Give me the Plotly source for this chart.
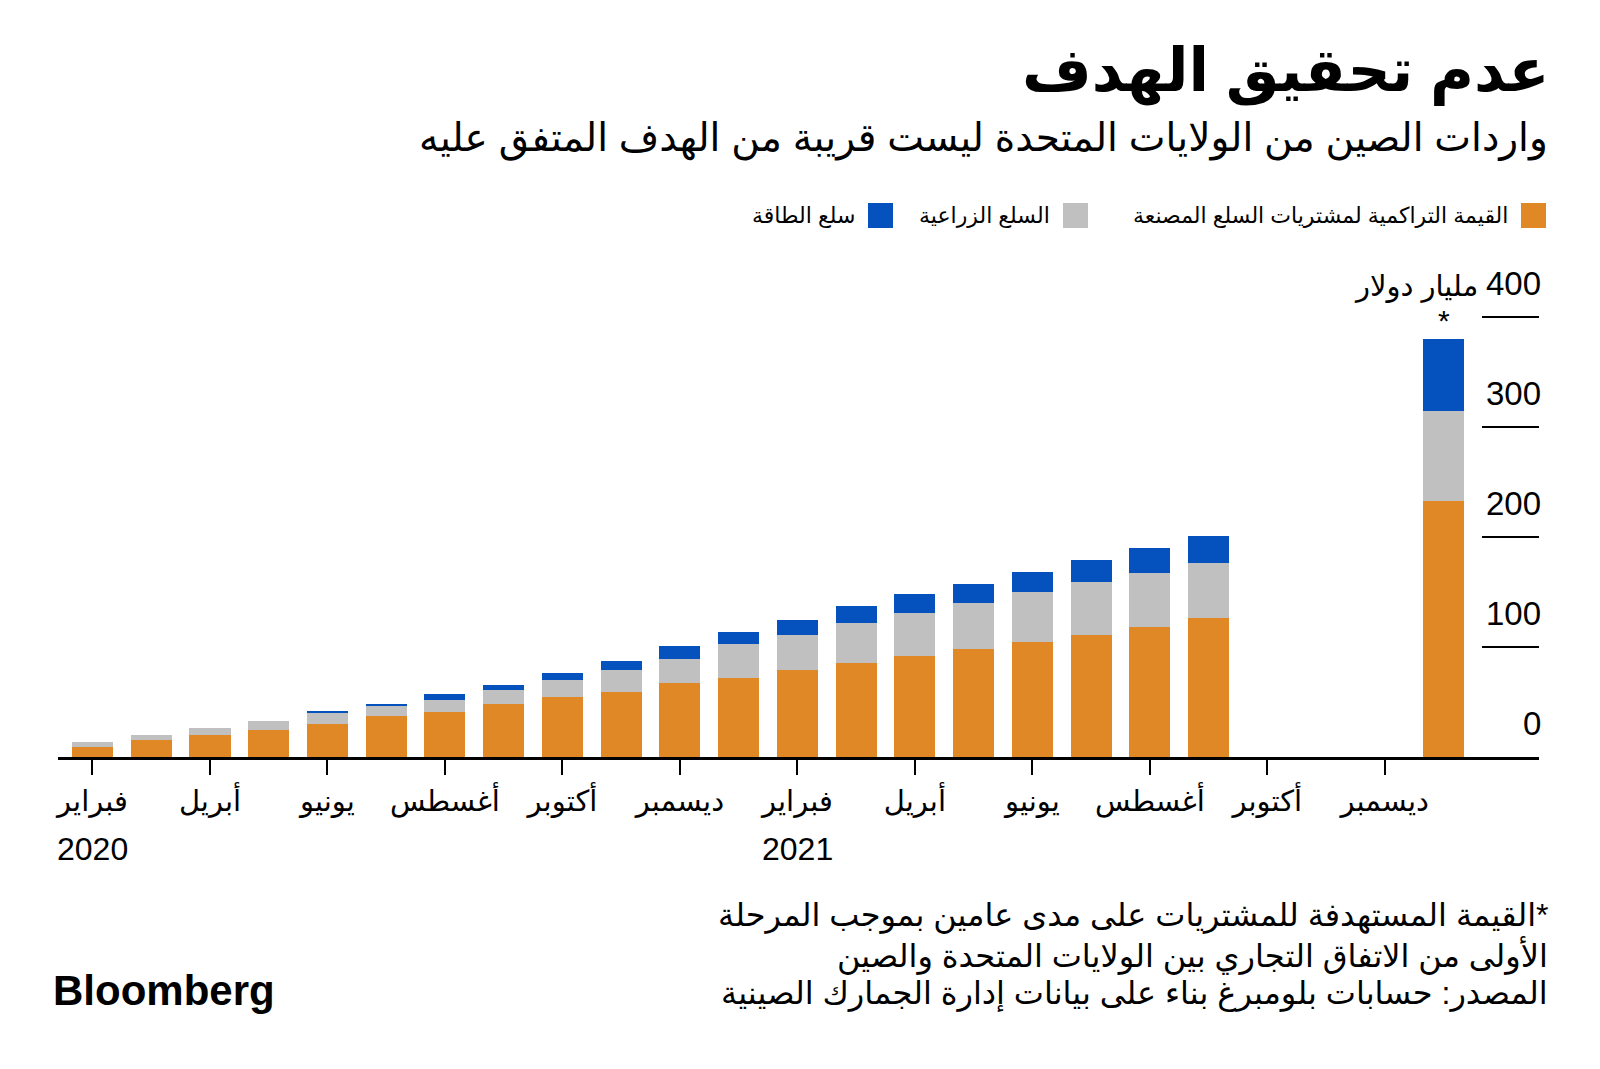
import plotly.graph_objects as go

# ---------------- data ----------------
months = ["2020-02", "2020-03", "2020-04", "2020-05", "2020-06", "2020-07", "2020-08",
          "2020-09", "2020-10", "2020-11", "2020-12", "2021-01", "2021-02", "2021-03",
          "2021-04", "2021-05", "2021-06", "2021-07", "2021-08", "2021-09", "2021-10",
          "2021-11", "2021-12"]
target_label = "الهدف"
categories = months + [target_label]

manufactured = [8.9, 15.6, 19.8, 24.3, 30.4, 37.0, 41.3, 48.5, 54.6, 59.2, 67.6, 71.9,
                78.8, 85.1, 91.8, 98.2, 104.2, 111.2, 118.1, 126.6, None, None, None, 233.0]
agricultural = [4.6, 4.2, 6.7, 8.8, 9.3, 9.1, 10.9, 12.5, 15.1, 19.6, 21.8, 30.8,
                32.4, 37.0, 39.0, 41.4, 46.0, 48.1, 49.6, 50.2, None, None, None, 81.2]
energy = [0, 0, 0, 0, 1.9, 2.2, 4.8, 4.8, 6.7, 8.8, 11.5, 10.9,
          13.3, 15.4, 17.6, 17.6, 18.1, 19.9, 22.4, 24.2, None, None, None, 66.2]

series_names = ["القيمة التراكمية لمشتريات السلع المصنعة", "السلع الزراعية", "سلع الطاقة"]
series_colors = ["#E08826", "#C0C0C0", "#0552BE"]

tick_months = ["2020-02", "2020-04", "2020-06", "2020-08", "2020-10", "2020-12",
               "2021-02", "2021-04", "2021-06", "2021-08", "2021-10", "2021-12"]
tick_labels = ["فبراير", "أبريل", "يونيو", "أغسطس", "أكتوبر", "ديسمبر",
               "فبراير", "أبريل", "يونيو", "أغسطس", "أكتوبر", "ديسمبر"]
year_months = ["2020-02", "2021-02"]
year_labels = ["2020", "2021"]
y_ticks = [0, 100, 200, 300, 400]
unit_label = "مليار دولار"

title = "عدم تحقيق الهدف"
subtitle = "واردات الصين من الولايات المتحدة ليست قريبة من الهدف المتفق عليه"
notes = ["\u200F*القيمة المستهدفة للمشتريات على مدى عامين بموجب المرحلة",
         "الأولى من الاتفاق التجاري بين الولايات المتحدة والصين",
         "المصدر: حسابات بلومبرغ بناء على بيانات إدارة الجمارك الصينية"]

# ---------------- layout helpers ----------------
W, H = 1600, 1069
ML, MR, MT, MB = 58, 61, 295, 312
FONT = "Liberation Sans, DejaVu Sans, sans-serif"


def px(x):
    return (x - ML) / (W - ML - MR)


def py(y):
    return (H - MB - y) / (H - MT - MB)


fig = go.Figure()
for name, vals, col in zip(series_names, [manufactured, agricultural, energy], series_colors):
    fig.add_trace(go.Bar(x=categories, y=vals, name=name, marker=dict(color=col, line=dict(width=0)),
                         showlegend=False))

annotations = []
shapes = []

# title / subtitle
annotations.append(dict(text="<b>" + title + "</b>", x=px(1552), y=py(71), xref="paper", yref="paper",
                        xanchor="right", yanchor="middle", showarrow=False,
                        font=dict(family=FONT, size=60, color="#000")))
annotations.append(dict(text=subtitle, x=px(1550), y=py(138), xref="paper", yref="paper",
                        xanchor="right", yanchor="middle", showarrow=False,
                        font=dict(family=FONT, size=39, color="#000")))

# legend (right-to-left)
legend_right = [1546, 1088, 893]
for name, col, r in zip(series_names, series_colors, legend_right):
    shapes.append(dict(type="rect", xref="paper", yref="paper", x0=px(r - 25), x1=px(r),
                       y0=py(228), y1=py(203), fillcolor=col, line=dict(width=0)))
    annotations.append(dict(text=name, x=px(r - 36), y=py(215), xref="paper", yref="paper",
                            xanchor="right", yanchor="middle", showarrow=False,
                            font=dict(family=FONT, size=22, color="#000")))

# y-axis labels + short grid lines on the right
for v in y_ticks:
    annotations.append(dict(text=str(v), x=px(1543), y=v, xref="paper", yref="y", xanchor="right",
                            yanchor="middle", yshift=34, showarrow=False,
                            font=dict(family=FONT, size=33, color="#000")))
    if v > 0:
        shapes.append(dict(type="line", xref="paper", yref="y", x0=px(1482), x1=1, y0=v, y1=v,
                           line=dict(color="#000", width=2)))
annotations.append(dict(text=unit_label, x=px(1480), y=y_ticks[-1], xref="paper", yref="y",
                        xanchor="right", yanchor="middle", yshift=31, showarrow=False,
                        font=dict(family=FONT, size=29, color="#000")))

# asterisk above target bar
target_total = manufactured[-1] + agricultural[-1] + energy[-1]
annotations.append(dict(text="*", x=target_label, y=target_total, xref="x", yref="y",
                        xanchor="center", yanchor="bottom", yshift=0, showarrow=False,
                        font=dict(family=FONT, size=30, color="#000")))

# year labels under the month ticks
for m, yl in zip(year_months, year_labels):
    annotations.append(dict(text=yl, x=m, y=py(849), xref="x", yref="paper", xanchor="center",
                            yanchor="middle", showarrow=False,
                            font=dict(family=FONT, size=32, color="#000")))

# notes
for txt, yy in zip(notes, [915, 955, 993]):
    annotations.append(dict(text=txt, x=px(1550), y=py(yy), xref="paper", yref="paper",
                            xanchor="right", yanchor="middle", showarrow=False,
                            font=dict(family=FONT, size=32, color="#000")))

annotations.append(dict(text="<b>Bloomberg</b>", x=px(51), y=py(990), xref="paper", yref="paper",
                        xanchor="left", yanchor="middle", showarrow=False,
                        font=dict(family="Liberation Sans, Arial, sans-serif", size=42, color="#000")))

fig.update_layout(
    width=W, height=H,
    margin=dict(l=ML, r=MR, t=MT, b=MB, pad=0),
    paper_bgcolor="white", plot_bgcolor="white",
    barmode="stack", bargap=0.3,
    showlegend=False,
    annotations=annotations, shapes=shapes,
    xaxis=dict(type="category", categoryorder="array", categoryarray=categories,
               range=[-0.587, 24.625], tickmode="array", tickvals=tick_months, ticktext=tick_labels,
               ticks="outside", ticklen=15, tickwidth=2, tickcolor="#000",
               showline=True, linecolor="#000", linewidth=2.5, showgrid=False, zeroline=False,
               automargin=False, ticklabelstandoff=1,
               tickfont=dict(family=FONT, size=29, color="#000")),
    yaxis=dict(range=[0, 420], visible=False, showgrid=False, zeroline=False, fixedrange=True,
               automargin=False),
)

fig.write_html("out.html", config={"displayModeBar": False},
               post_script="document.body.style.margin='0';")
